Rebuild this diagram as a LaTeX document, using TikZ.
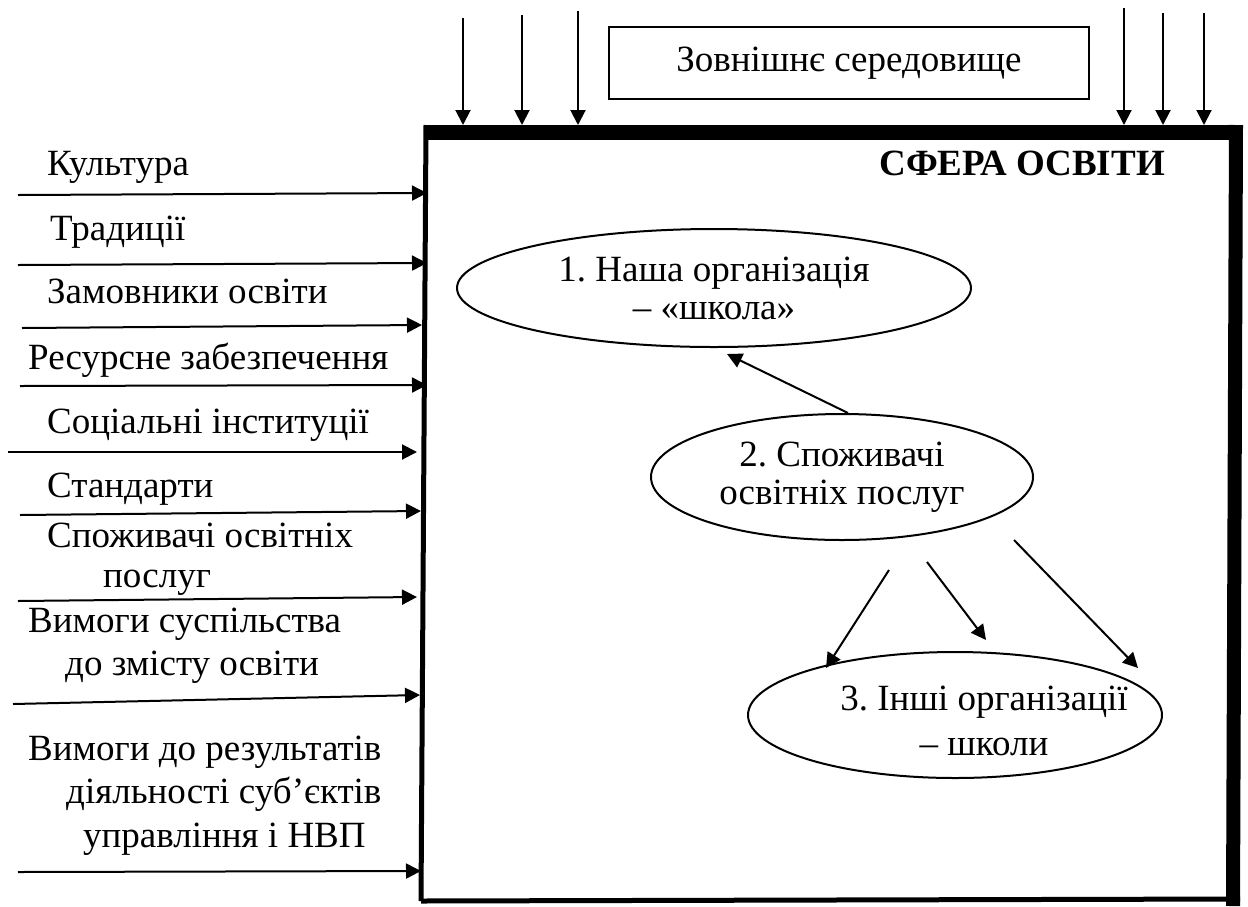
\documentclass[tikz,border=0pt]{standalone}
\usepackage{fontspec}
\setmainfont{Liberation Serif}
\frenchspacing
\usetikzlibrary{arrows.meta,shapes.geometric}
\tikzset{
  inarrow/.style={draw=black, line width=2pt, -{Triangle[length=15pt,width=15pt]}},
  sidelabel/.style={anchor=base west, inner sep=0pt, font=\fontsize{37}{43}\selectfont},
  unitellipse/.style={draw=black, line width=2pt, ellipse, inner sep=0pt, align=center,
    font=\fontsize{37}{38}\selectfont},
  unittext/.style={inner sep=0pt, align=center, font=\fontsize{37}{45}\selectfont},
}
\begin{document}
\begin{tikzpicture}[x=1pt,y=-1pt]
\useasboundingbox[fill=white] (0,0) rectangle (1248,906);
% Drawing the frame of the sphere
\coordinate (ftl) at (427,125);
\coordinate (ftr) at (1243,125);
\coordinate (fbr) at (1240,906);
\coordinate (fbl) at (421,901);
\draw[line width=15pt] ([yshift=-7.5pt]ftl) -- ([yshift=-7.5pt]ftr);
\draw[line width=14pt] ([xshift=-7pt]ftr) -- ([xshift=-7pt]fbr);
\draw[line width=5pt] ([xshift=-1pt]ftl) -- (fbl);
\draw[line width=5pt] (fbl) -- ([yshift=2pt]fbl -| fbr);
\node[anchor=base east, inner sep=0pt, font=\fontsize{37}{43}\selectfont\bfseries]
  (sphere) at (1165,175) {СФЕРА ОСВІТИ};
% Drawing the environment box and its arrows
\node[draw, line width=2pt, minimum width=480pt, minimum height=72pt, inner sep=0pt,
  font=\fontsize{37}{43}\selectfont] (env) at (849,63) {Зовнішнє середовище};
\foreach \n/\x/\y in {1/463/18, 2/522/15, 3/578/11, 4/1124/8, 5/1163/13, 6/1204/13} {
  \coordinate (envsrc\n) at (\x,\y);
  \draw[inarrow] (envsrc\n) -- (envsrc\n |- ftl);
}
% Drawing the factors on the left
\foreach \n/\xa/\ya/\xb/\yb in {1/18/195/427/193, 2/18/265/427/263, 3/22/328/422/325,
    4/20/386/427/385, 5/8/452/417/452, 6/20/515/421/511, 7/18/601/417/597,
    8/13/704/420/695, 9/18/872/421/871} {
  \coordinate (src\n) at (\xa,\ya);
  \coordinate (dst\n) at (\xb,\yb);
  \draw[inarrow] (src\n) -- (dst\n);
}
\node[sidelabel] (culture) at (47,175) {Культура};
\node[sidelabel] (tradition) at (50,240) {Традиції};
\node[sidelabel] (clients) at (47,303) {Замовники освіти};
\node[sidelabel] (resources) at (28,369) {Ресурсне забезпечення};
\node[sidelabel] (institutions) at (47,433) {Соціальні інституції};
\node[sidelabel] (standards) at (47,497) {Стандарти};
\node[sidelabel] (consumersa) at (47,547) {Споживачі освітніх};
\node[sidelabel] (consumersb) at (103,587) {послуг};
\node[sidelabel] (demandsa) at (28,632) {Вимоги суспільства};
\node[sidelabel] (demandsb) at (65,675) {до змісту освіти};
\node[sidelabel] (resultsa) at (28,760) {Вимоги до результатів};
\node[sidelabel] (resultsb) at (66,803) {діяльності суб’єктів};
\node[sidelabel] (resultsc) at (83,847) {управління і НВП};
% Drawing the ellipses inside the sphere
\node[unitellipse, minimum width=514pt, minimum height=118pt] (org) at (714,288)
  {1. Наша організація\\– «школа»};
\node[unitellipse, minimum width=382pt, minimum height=126pt] (cons) at (842,477)
  {2. Споживачі\\освітніх послуг};
\node[unitellipse, minimum width=414pt, minimum height=126pt] (oth) at (955,715) {};
\node[unittext] (othtext) at ([xshift=29pt, yshift=-6pt]oth.center)
  {3. Інші організації\\– школи};
\draw[inarrow] ([shift={(6,-64)}]cons.center) -- ([shift={(13,66)}]org.center);
\draw[inarrow] ([shift={(47,93)}]cons.center) -- ([shift={(-129,-47)}]oth.center);
\draw[inarrow] ([shift={(85,85)}]cons.center) -- ([shift={(31,-75)}]oth.center);
\draw[inarrow] ([shift={(172,63)}]cons.center) -- ([shift={(183,-47)}]oth.center);
\end{tikzpicture}
\end{document}
